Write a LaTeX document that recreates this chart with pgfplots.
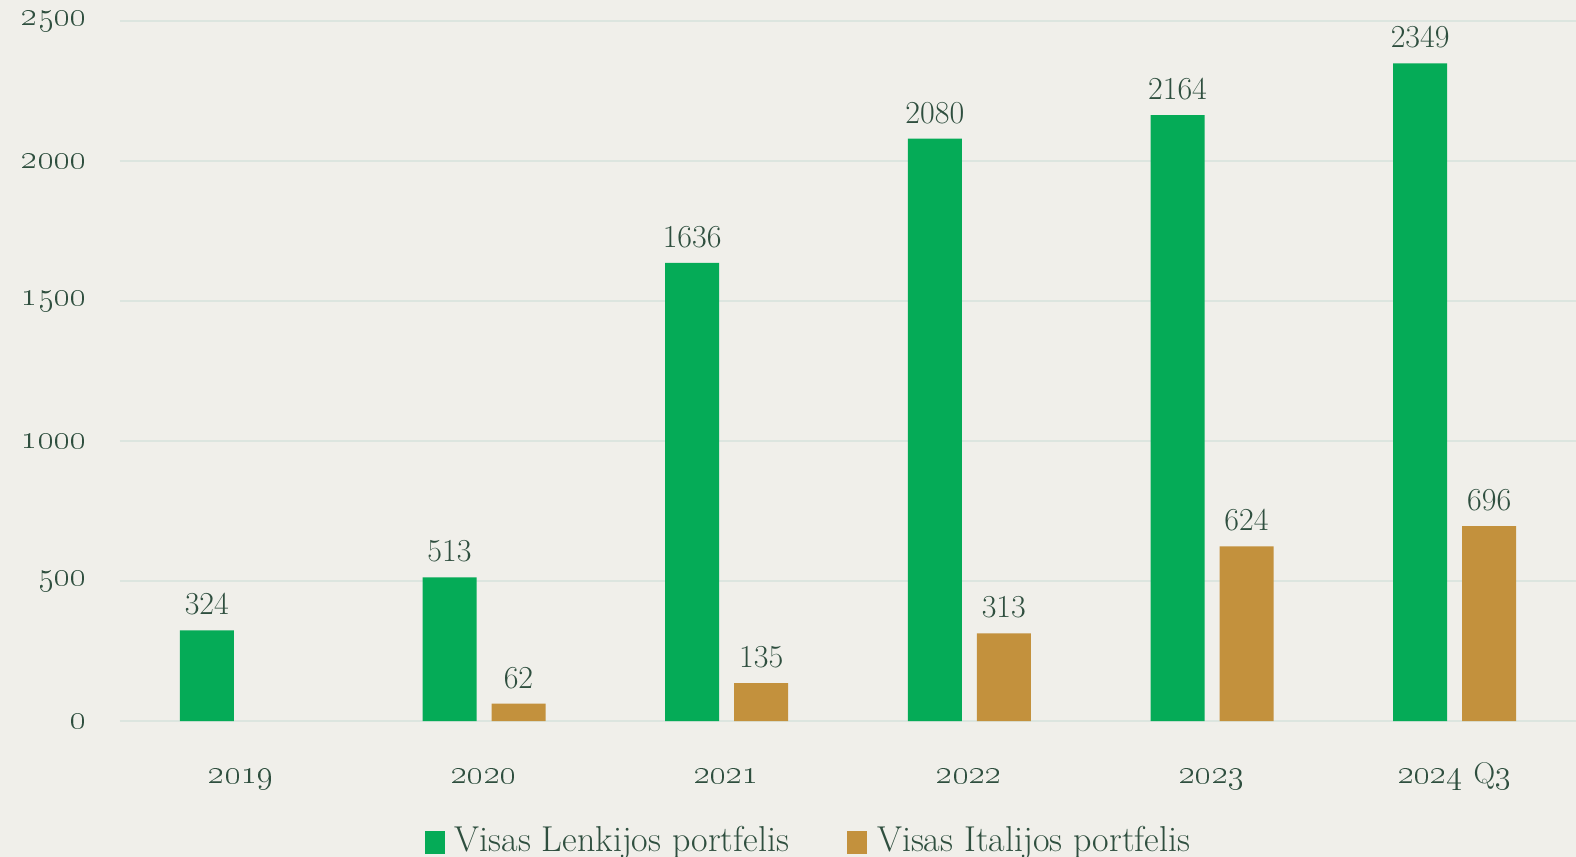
\documentclass[border=0pt]{standalone}
\usepackage{pgfplots}
\pgfplotsset{compat=1.18}
\definecolor{bg}{HTML}{F0EFEA}
\definecolor{grn}{HTML}{05AB57}
\definecolor{gld}{HTML}{C3913D}
\definecolor{txt}{HTML}{2F4F3F}
\definecolor{grd}{HTML}{DCE5DF}
\begin{document}
\begin{tikzpicture}
\fill[bg] (-60pt,-68pt) rectangle (728pt,360.5pt);
\useasboundingbox (-60pt,-68pt) rectangle (728pt,360.5pt);
\begin{axis}[
  scale only axis,
  width=728pt, height=350pt,
  xmin=-0.5, xmax=5.5,
  ymin=0, ymax=2500,
  axis line style={draw=none},
  ymajorgrids,
  grid style={grd, line width=0.8pt},
  ytick={0,500,1000,1500,2000,2500},
  yticklabels={\oldstylenums{0},\oldstylenums{500},\oldstylenums{1000},\oldstylenums{1500},\oldstylenums{2000},\oldstylenums{2500}},
  xtick={0,1,2,3,4,5},
  xticklabels={\oldstylenums{2019},\oldstylenums{2020},\oldstylenums{2021},\oldstylenums{2022},\oldstylenums{2023},\oldstylenums{2024} {\fontsize{15}{18}\selectfont Q}\oldstylenums{3}},
  major tick length=0pt,
  tick label style={font=\fontsize{17.5}{21}\selectfont, text=txt},
  xticklabel style={yshift=-31pt, anchor=base, text height=0pt},
  yticklabel style={xshift=-13pt},
  ybar, bar width=27pt,
  nodes near coords={\pgfmathprintnumber[fixed, precision=0, 1000 sep={}, assume math mode=true]{\pgfplotspointmeta}},
  every node near coord/.append style={font=\fontsize{16}{19}\selectfont, text=txt, yshift=4pt},
  legend style={at={(0.4736,-0.171)}, anchor=center, draw=none, fill=none,
    legend columns=2, font=\fontsize{18}{21}\selectfont, text=txt,
    /tikz/every odd column/.append style={column sep=3pt},
    /tikz/every even column/.append style={column sep=27pt}},
  legend image code/.code={\fill[#1] (-2pt,-6.5pt) rectangle (8pt,5pt);},
  clip=false,
]
\addplot[fill=grn, draw=none, bar shift=-17.25pt] coordinates {(0,324) (1,513) (2,1636) (3,2080) (4,2164) (5,2349)};
\addplot[fill=gld, draw=none, bar shift=17.25pt] coordinates {(1,62) (2,135) (3,313) (4,624) (5,696)};
\legend{Visas Lenkijos portfelis, Visas Italijos portfelis}
\end{axis}
\end{tikzpicture}
\end{document}
